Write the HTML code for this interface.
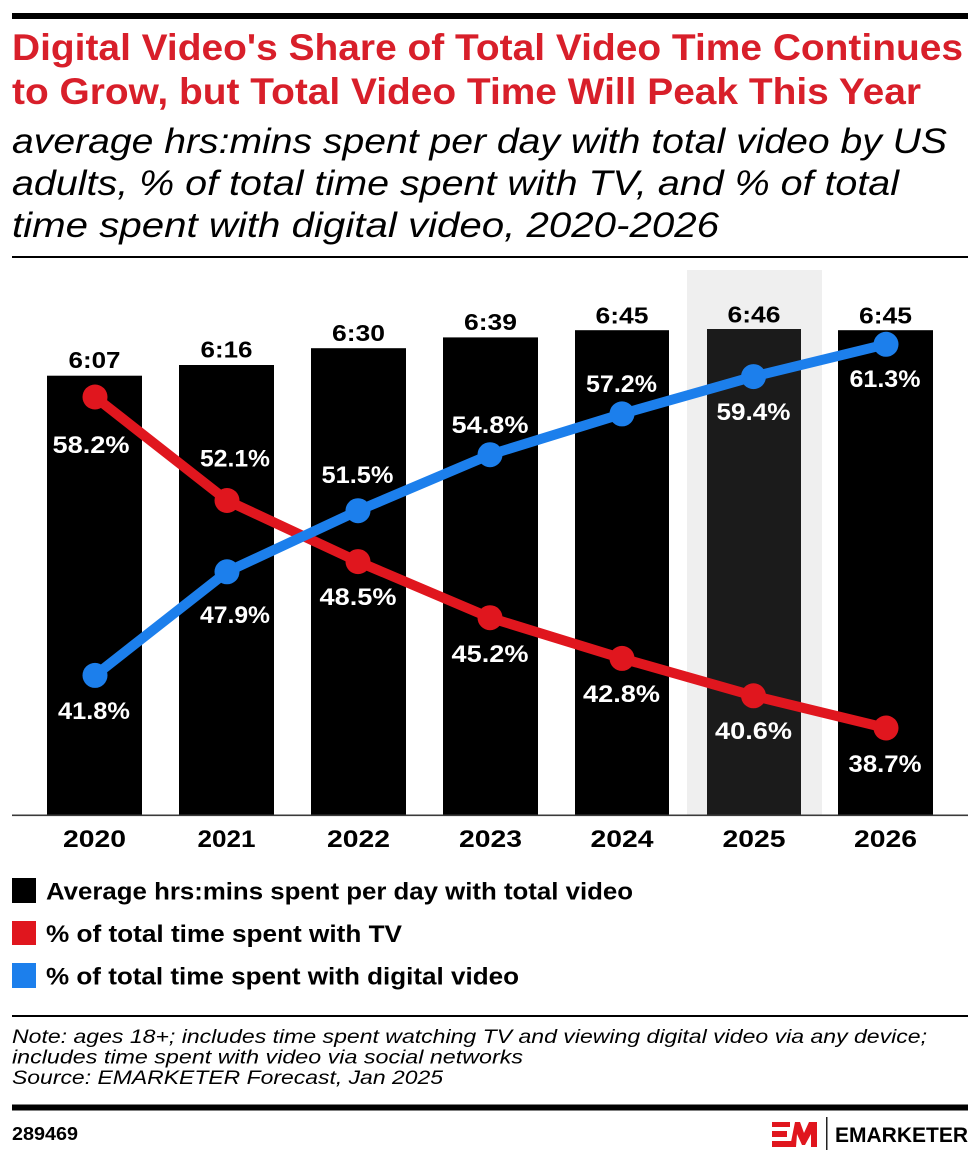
<!DOCTYPE html>
<html>
<head>
<meta charset="utf-8">
<style>
  html,body{margin:0;padding:0;background:#fff;}
  svg{display:block;}
  text{font-family:"Liberation Sans",Arial,sans-serif;}
</style>
</head>
<body>
<svg width="980" height="1160" viewBox="0 0 980 1160" xmlns="http://www.w3.org/2000/svg">
  <rect x="0" y="0" width="980" height="1160" fill="#ffffff"/>

  <!-- top rule -->
  <rect x="12" y="13" width="956" height="6" fill="#000"/>

  <!-- title -->
  <text x="12" y="60" font-size="37" font-weight="bold" fill="#d81f2a" textLength="951" lengthAdjust="spacingAndGlyphs">Digital Video's Share of Total Video Time Continues</text>
  <text x="12" y="104" font-size="37" font-weight="bold" fill="#d81f2a" textLength="909" lengthAdjust="spacingAndGlyphs">to Grow, but Total Video Time Will Peak This Year</text>

  <!-- subtitle -->
  <text x="12" y="153" font-size="35" font-style="italic" fill="#000" textLength="935" lengthAdjust="spacingAndGlyphs">average hrs:mins spent per day with total video by US</text>
  <text x="12" y="195" font-size="35" font-style="italic" fill="#000" textLength="887" lengthAdjust="spacingAndGlyphs">adults, % of total time spent with TV, and % of total</text>
  <text x="12" y="237" font-size="35" font-style="italic" fill="#000" textLength="707" lengthAdjust="spacingAndGlyphs">time spent with digital video, 2020-2026</text>

  <!-- header bottom rule -->
  <rect x="12" y="256" width="956" height="2" fill="#000"/>

  <!-- highlight 2025 -->
  <rect x="687" y="270" width="135" height="545" fill="#efefef"/>

  <!-- bars -->
  <rect x="47" y="375.7" width="95" height="439.3" fill="#000"/>
  <rect x="179" y="365" width="95" height="450" fill="#000"/>
  <rect x="311" y="348.2" width="95" height="466.8" fill="#000"/>
  <rect x="443" y="337.4" width="95" height="477.6" fill="#000"/>
  <rect x="575" y="330.2" width="94" height="484.8" fill="#000"/>
  <rect x="707" y="329" width="94" height="486" fill="#1b1b1b"/>
  <rect x="838" y="330.2" width="95" height="484.8" fill="#000"/>

  <!-- axis -->
  <rect x="12" y="814.5" width="956" height="1.6" fill="#3a3a3a"/>

  <!-- bar value labels -->
  <g font-size="23" font-weight="bold" fill="#000" text-anchor="middle">
    <text x="94.5" y="368" textLength="52" lengthAdjust="spacingAndGlyphs">6:07</text>
    <text x="226.5" y="357.5" textLength="52" lengthAdjust="spacingAndGlyphs">6:16</text>
    <text x="358.5" y="341" textLength="53" lengthAdjust="spacingAndGlyphs">6:30</text>
    <text x="490.5" y="330" textLength="53" lengthAdjust="spacingAndGlyphs">6:39</text>
    <text x="622" y="323.5" textLength="53" lengthAdjust="spacingAndGlyphs">6:45</text>
    <text x="754" y="322.5" textLength="53" lengthAdjust="spacingAndGlyphs">6:46</text>
    <text x="885.5" y="323.5" textLength="53" lengthAdjust="spacingAndGlyphs">6:45</text>
  </g>

  <!-- red line (TV) -->
  <polyline points="95,397 227,500.5 358,561.6 490,617.7 622,658.4 753.5,695.8 886,728" fill="none" stroke="#e0161e" stroke-width="10" stroke-linejoin="round" stroke-linecap="round"/>
  <g fill="#e0161e">
    <circle cx="95" cy="397" r="12.5"/>
    <circle cx="227" cy="500.5" r="12.5"/>
    <circle cx="358" cy="561.6" r="12.5"/>
    <circle cx="490" cy="617.7" r="12.5"/>
    <circle cx="622" cy="658.4" r="12.5"/>
    <circle cx="753.5" cy="695.8" r="12.5"/>
    <circle cx="886" cy="728" r="12.5"/>
  </g>

  <!-- blue line (digital) -->
  <polyline points="95,675.4 227,571.8 358,510.7 490,454.7 622,413.9 753.5,376.6 886,344.3" fill="none" stroke="#1c7fec" stroke-width="10" stroke-linejoin="round" stroke-linecap="round"/>
  <g fill="#1c7fec">
    <circle cx="95" cy="675.4" r="12.5"/>
    <circle cx="227" cy="571.8" r="12.5"/>
    <circle cx="358" cy="510.7" r="12.5"/>
    <circle cx="490" cy="454.7" r="12.5"/>
    <circle cx="622" cy="413.9" r="12.5"/>
    <circle cx="753.5" cy="376.6" r="12.5"/>
    <circle cx="886" cy="344.3" r="12.5"/>
  </g>

  <!-- percentage labels -->
  <g font-size="24" font-weight="bold" fill="#fff" text-anchor="middle">
    <text x="91" y="453" textLength="77" lengthAdjust="spacingAndGlyphs">58.2%</text>
    <text x="94" y="719" textLength="72" lengthAdjust="spacingAndGlyphs">41.8%</text>
    <text x="235" y="466.5" textLength="70" lengthAdjust="spacingAndGlyphs">52.1%</text>
    <text x="235" y="623" textLength="70" lengthAdjust="spacingAndGlyphs">47.9%</text>
    <text x="357.5" y="483" textLength="72" lengthAdjust="spacingAndGlyphs">51.5%</text>
    <text x="358" y="605" textLength="77" lengthAdjust="spacingAndGlyphs">48.5%</text>
    <text x="490" y="433" textLength="77" lengthAdjust="spacingAndGlyphs">54.8%</text>
    <text x="490" y="662" textLength="77" lengthAdjust="spacingAndGlyphs">45.2%</text>
    <text x="621.5" y="392" textLength="71" lengthAdjust="spacingAndGlyphs">57.2%</text>
    <text x="621.5" y="702" textLength="77" lengthAdjust="spacingAndGlyphs">42.8%</text>
    <text x="753.5" y="420" textLength="74" lengthAdjust="spacingAndGlyphs">59.4%</text>
    <text x="753.5" y="739" textLength="77" lengthAdjust="spacingAndGlyphs">40.6%</text>
    <text x="885" y="387" textLength="71" lengthAdjust="spacingAndGlyphs">61.3%</text>
    <text x="885" y="772" textLength="73" lengthAdjust="spacingAndGlyphs">38.7%</text>
  </g>

  <!-- year labels -->
  <g font-size="24" font-weight="bold" fill="#000" text-anchor="middle">
    <text x="94.5" y="847" textLength="63" lengthAdjust="spacingAndGlyphs">2020</text>
    <text x="226.5" y="847" textLength="58" lengthAdjust="spacingAndGlyphs">2021</text>
    <text x="358.5" y="847" textLength="63" lengthAdjust="spacingAndGlyphs">2022</text>
    <text x="490.5" y="847" textLength="63" lengthAdjust="spacingAndGlyphs">2023</text>
    <text x="622" y="847" textLength="63" lengthAdjust="spacingAndGlyphs">2024</text>
    <text x="754" y="847" textLength="63" lengthAdjust="spacingAndGlyphs">2025</text>
    <text x="885.5" y="847" textLength="63" lengthAdjust="spacingAndGlyphs">2026</text>
  </g>

  <!-- legend -->
  <rect x="12" y="878" width="24" height="25" fill="#000"/>
  <rect x="12" y="921" width="24" height="24" fill="#e0161e"/>
  <rect x="12" y="963" width="24" height="25" fill="#1c7fec"/>
  <g font-size="24" font-weight="bold" fill="#000">
    <text x="46" y="899.5" textLength="587" lengthAdjust="spacingAndGlyphs">Average hrs:mins spent per day with total video</text>
    <text x="46" y="942" textLength="356" lengthAdjust="spacingAndGlyphs">% of total time spent with TV</text>
    <text x="46" y="984.5" textLength="473" lengthAdjust="spacingAndGlyphs">% of total time spent with digital video</text>
  </g>

  <!-- footer rule -->
  <rect x="12" y="1015" width="956" height="2" fill="#000"/>

  <!-- notes -->
  <g font-size="19.5" font-style="italic" fill="#000">
    <text x="12" y="1043" textLength="915" lengthAdjust="spacingAndGlyphs">Note: ages 18+; includes time spent watching TV and viewing digital video via any device;</text>
    <text x="12" y="1063.5" textLength="511" lengthAdjust="spacingAndGlyphs">includes time spent with video via social networks</text>
    <text x="12" y="1084" textLength="431" lengthAdjust="spacingAndGlyphs">Source: EMARKETER Forecast, Jan 2025</text>
  </g>

  <!-- bottom thick rule -->
  <rect x="12" y="1104.5" width="956" height="6" fill="#000"/>

  <!-- id -->
  <text x="12" y="1140" font-size="18" font-weight="bold" fill="#000" textLength="66" lengthAdjust="spacingAndGlyphs">289469</text>

  <!-- EM logo -->
  <g fill="#e0161e">
    <rect x="772" y="1122" width="18" height="5"/>
    <rect x="772" y="1131" width="15" height="6"/>
    <rect x="772" y="1141" width="20" height="6"/>
    <polygon points="790,1147 795,1122 800,1122 804,1133 809,1122 817,1122 817,1147 811,1147 811,1134 805,1145 802,1145 797,1134 796,1147"/>
  </g>
  <rect x="826" y="1117" width="1.5" height="33" fill="#222"/>
  <text x="835" y="1142" font-size="21" font-weight="bold" fill="#000" textLength="133" lengthAdjust="spacingAndGlyphs">EMARKETER</text>
</svg>
</body>
</html>
